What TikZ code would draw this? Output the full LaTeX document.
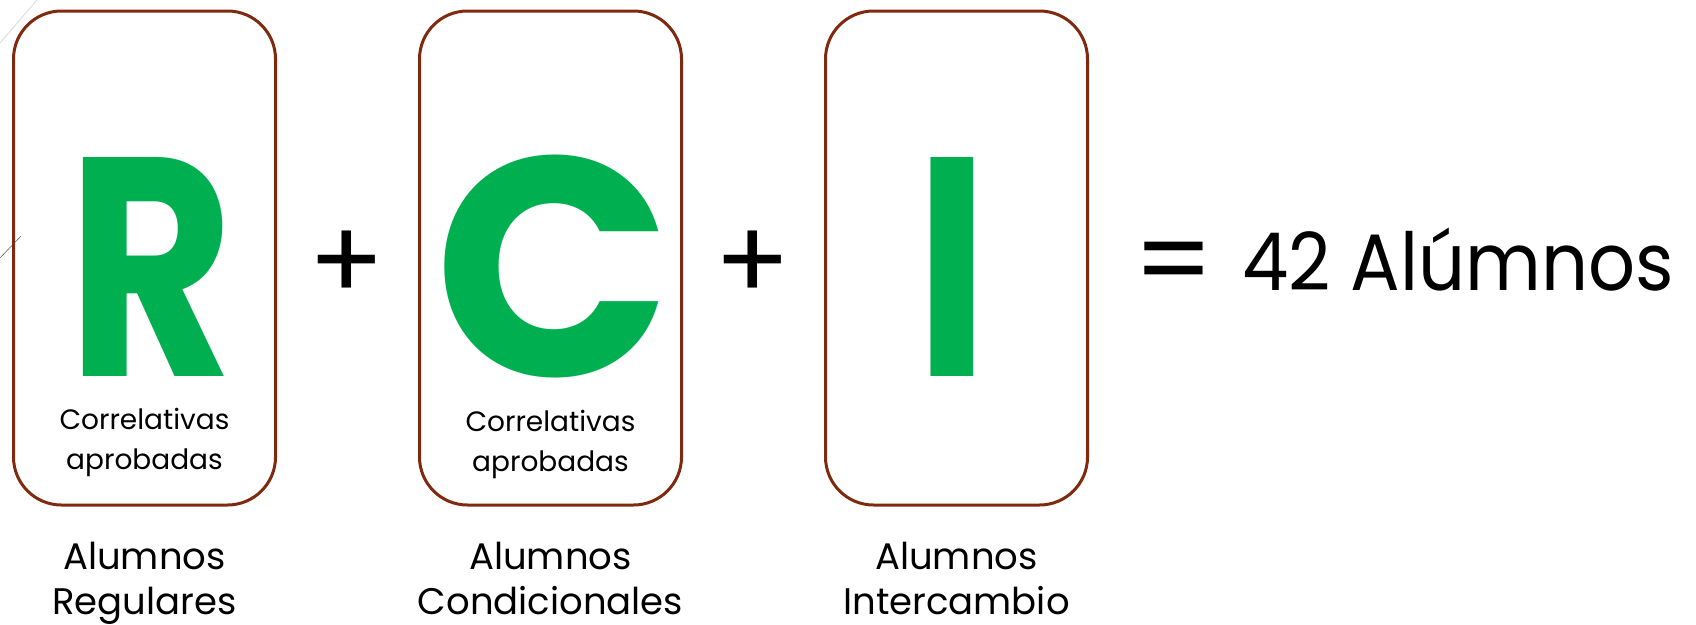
\documentclass[tikz,border=0pt]{standalone}
\usepackage{fontspec}
\setmainfont{Poppins}
\usepackage{xcolor}
\usepackage{tikz}
\usetikzlibrary{positioning}
\definecolor{cardbrown}{HTML}{7F2A0E}
\definecolor{lettergreen}{HTML}{00B050}

\begin{document}
\begin{tikzpicture}[x=1pt, y=1pt, node distance=141pt,
    card/.style={draw=cardbrown, line width=3pt, rectangle, rounded corners=48pt, minimum width=262pt, minimum height=494pt},
    letter/.style={text=lettergreen, font=\fontsize{312}{312}\selectfont\bfseries, anchor=base, inner sep=0pt},
    note/.style={font=\fontsize{28}{40}\selectfont, align=center, inner sep=0pt, anchor=north},
    caption/.style={font=\fontsize{37}{45}\selectfont, align=center, inner sep=0pt},
    sign/.style={font=\fontsize{112}{112}\selectfont, inner sep=0pt}]
        \useasboundingbox (0,0) rectangle (1696,-624);

        % faint slide lines
        \draw[black!15, line width=0.8pt] (0,-43) -- (37,0);
        \draw[black!60, line width=0.6pt] (0,-258) -- (21,-236);

        % Cards
        \node (boxR) [card] at (144.5,-258) {};
        \node (boxC) [card, right=of boxR] {};
        \node (boxI) [card, right=of boxC] {};

        % Letters
        \node (R) [letter, xscale=0.82, transform shape] at ([xshift=6pt, yshift=-118pt]boxR.center) {R};
        \node (C) [letter] at ([xshift=3pt, yshift=-118pt]boxC.center) {C};
        \node (I) [letter, xscale=0.8, transform shape] at ([xshift=-4pt, yshift=-118pt]boxI.center) {I};

        % Notes inside the cards
        \node (noteR) [note] at ([yshift=-150pt]boxR.center) {Correlativas\\aprobadas};
        \node (noteC) [note] at ([yshift=-152pt]boxC.center) {Correlativas\\aprobadas};

        % Captions under the cards
        \node (capR) [caption, below=35pt of boxR] {Alumnos\\Regulares};
        \node (capC) [caption, below=35pt of boxC] {Alumnos\\Condicionales};
        \node (capI) [caption, below=35pt of boxI] {Alumnos\\Intercambio};

        % Signs
        \node (plusA) [sign] at ([xshift=70pt, yshift=-8pt]boxR.east) {+};
        \node (plusB) [sign] at ([xshift=70pt, yshift=-8pt]boxC.east) {+};
        \node (eq) [sign] at ([xshift=85pt, yshift=-13pt]boxI.east) {=};

        % Total
        \node (total) [font=\fontsize{80}{80}\selectfont, anchor=base west, inner sep=0pt, xscale=0.92, transform shape] at (1242,-290) {42 Alúmnos};
\end{tikzpicture}
\end{document}
